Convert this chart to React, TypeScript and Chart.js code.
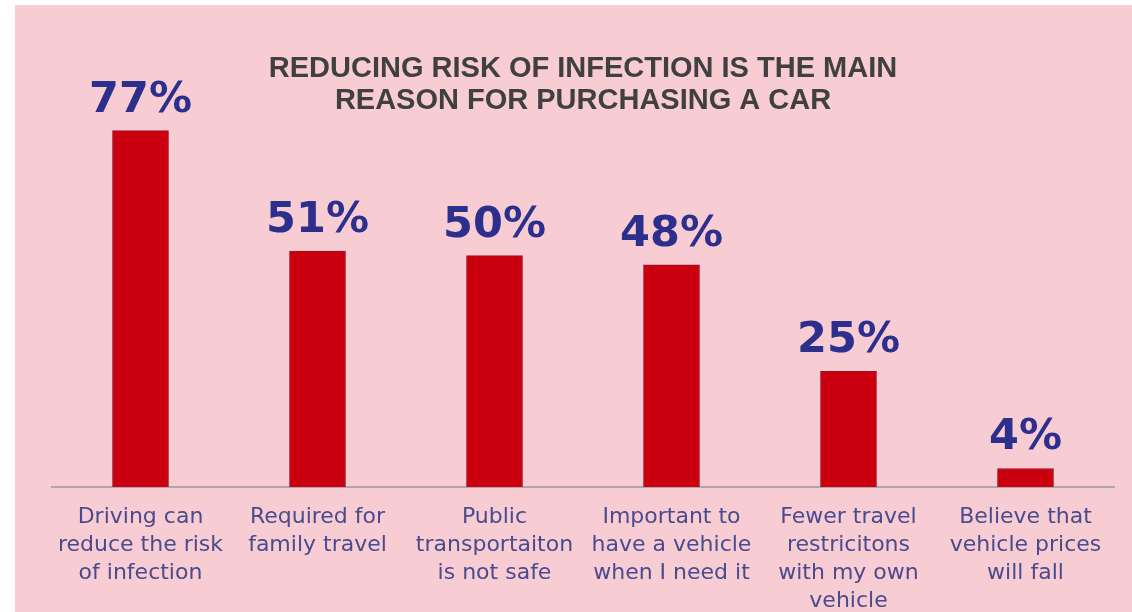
import { useEffect, useRef } from "react";
import { Chart, registerables } from "chart.js";

Chart.register(...registerables);

// Survey reasons for buying a car and share of respondents (%)
const categories: string[][] = [
  ["Driving can", "reduce the risk", "of infection"],
  ["Required for", "family travel"],
  ["Public", "transportaiton", "is not safe"],
  ["Important to", "have a vehicle", "when I need it"],
  ["Fewer travel", "restricitons", "with my own", "vehicle"],
  ["Believe that", "vehicle prices", "will fall"],
];
const shares: number[] = [77, 51, 50, 48, 25, 4];
const titleLines: string[] = [
  "REDUCING RISK OF INFECTION IS THE MAIN",
  "REASON FOR PURCHASING A CAR",
];

// Big percentage labels above each bar
const valueLabels = {
  id: "valueLabels",
  afterDatasetsDraw(chart: any) {
    const ctx = chart.ctx as CanvasRenderingContext2D;
    const meta = chart.getDatasetMeta(0);
    ctx.save();
    ctx.font = "bold 43px 'DejaVu Sans'";
    ctx.fillStyle = "#2C2F8C";
    ctx.textAlign = "center";
    ctx.textBaseline = "alphabetic";
    meta.data.forEach((bar: any, i: number) => {
      ctx.fillText(`${shares[i]}%`, bar.x, bar.y - 19);
    });
    ctx.restore();
  },
};

export default function App() {
  const canvasRef = useRef<HTMLCanvasElement | null>(null);

  useEffect(() => {
    if (!canvasRef.current) return;
    const chart = new Chart(canvasRef.current, {
      type: "bar",
      data: {
        labels: categories,
        datasets: [
          {
            data: shares,
            backgroundColor: "#CA0010",
            borderColor: "#9E1222",
            borderWidth: 1,
            borderSkipped: "bottom",
            barThickness: 56,
          },
        ],
      },
      options: {
        animation: false,
        responsive: false,
        maintainAspectRatio: false,
        layout: { padding: { left: 37, right: 18, top: 0, bottom: 0 } },
        plugins: {
          legend: { display: false },
          tooltip: { enabled: false },
          title: {
            display: true,
            text: titleLines,
            color: "#404040",
            font: { family: "'Liberation Sans', Arial, sans-serif", size: 29, weight: "bold", lineHeight: 1.1 },
            padding: { top: 48, bottom: 0 },
          },
        },
        scales: {
          x: {
            grid: { display: false },
            border: { display: true, color: "#A9A9A9", width: 2 },
            ticks: {
              color: "#4A4B8E",
              font: { family: "'DejaVu Sans', sans-serif", size: 22, lineHeight: 1.27 },
              padding: 8,
              autoSkip: false,
              maxRotation: 0,
              minRotation: 0,
            },
            afterFit(scale: any) {
              scale.height = 125;
            },
          },
          y: { display: false, min: 0, max: 80 },
        },
      },
      plugins: [valueLabels],
    });
    return () => chart.destroy();
  }, []);

  return (
    <div
      style={{
        position: "absolute",
        left: 15,
        top: 5,
        width: 1117,
        height: 607,
        background: "#F7CCD3",
        overflow: "hidden",
      }}
    >
      <canvas ref={canvasRef} width={1117} height={607} style={{ display: "block" }} />
    </div>
  );
}
